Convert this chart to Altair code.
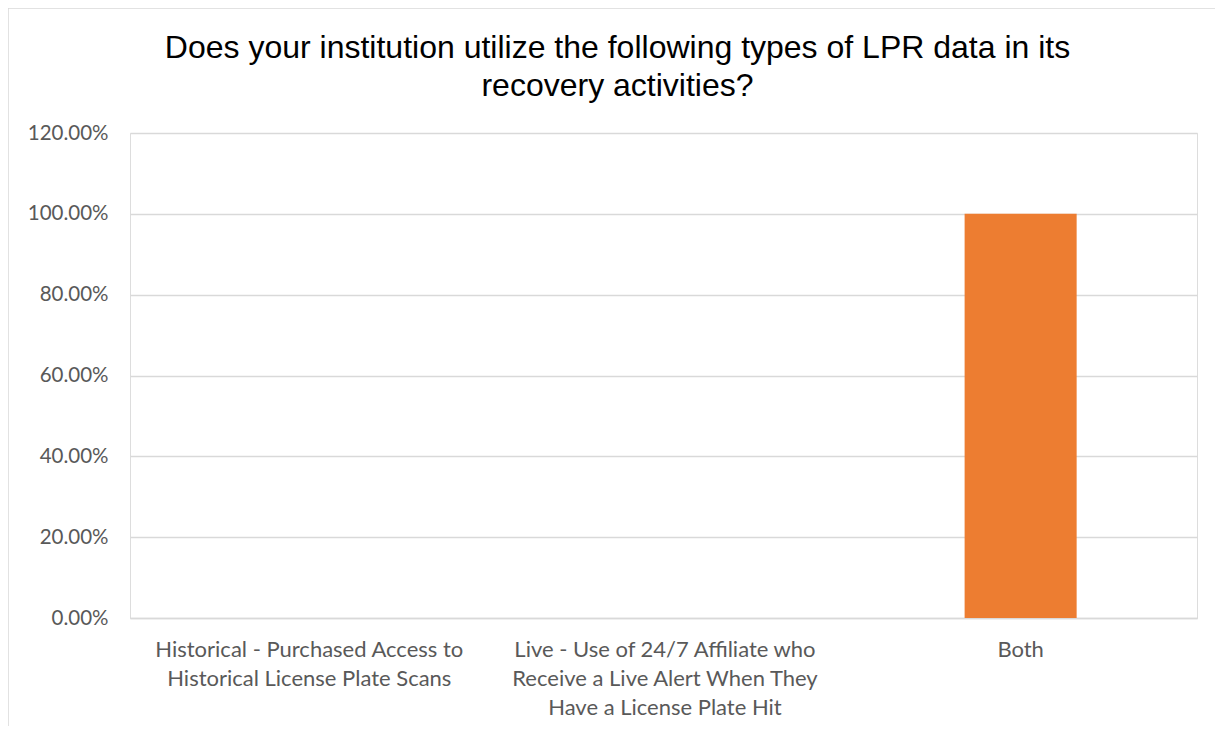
import altair as alt
import pandas as pd

categories = [
    "Historical - Purchased Access to\nHistorical License Plate Scans",
    "Live - Use of 24/7 Affiliate who\nReceive a Live Alert When They\nHave a License Plate Hit",
    "Both",
]
shares = [0.0, 0.0, 1.0]
y_ticks = [0.0, 0.2, 0.4, 0.6, 0.8, 1.0, 1.2]
title_lines = [
    "Does your institution utilize the following types of LPR data in its",
    "recovery activities?",
]

df = pd.DataFrame({"category": categories, "share": shares})

W, H = 1067, 485
PAD_L, PAD_T, PAD_R, PAD_B = 122, 125, 18, 108

bars = alt.Chart(df).mark_bar(color="#ED7D31").encode(
    x=alt.X(
        "category:N",
        sort=categories,
        scale=alt.Scale(paddingInner=0.685, paddingOuter=0.3425, align=0.506),
        axis=alt.Axis(
            title=None,
            labelAngle=0,
            labelExpr="split(datum.label, '\\n')",
            labelFont="Lato",
            labelFontSize=22,
            labelColor="#595959",
            labelLineHeight=29,
            labelPadding=21,
            labelBaseline="top",
            labelLimit=0,
            ticks=False,
            domain=True,
            domainColor="#d9d9d9",
            domainWidth=1.5,
            grid=False,
        ),
    ),
    y=alt.Y(
        "share:Q",
        scale=alt.Scale(domain=[0, 1.2], nice=False),
        axis=alt.Axis(
            title=None,
            values=y_ticks,
            format=".2%",
            labelFont="Lato",
            labelFontSize=20.5,
            labelColor="#595959",
            labelPadding=22,
            ticks=False,
            domain=False,
            grid=True,
            gridColor="#d9d9d9",
            gridWidth=1.5,
        ),
    ),
)

frame_df = pd.DataFrame({"k": [0]})
left_border = alt.Chart(frame_df).mark_rule(color="#d9d9d9", strokeWidth=1.5).encode(
    x=alt.value(-122), y=alt.value(-126), y2=alt.value(H + PAD_B)
)
top_border = alt.Chart(frame_df).mark_rule(color="#d9d9d9", strokeWidth=1.5).encode(
    x=alt.value(-122), x2=alt.value(W + PAD_R), y=alt.value(-125)
)

chart = (
    alt.layer(bars, left_border, top_border)
    .properties(
        width=W,
        height=H,
        autosize=alt.AutoSizeParams(type="none"),
        padding={"left": PAD_L, "top": PAD_T, "right": PAD_R, "bottom": PAD_B},
        title=alt.Title(
            text=title_lines,
            font="Liberation Sans",
            fontSize=32,
            fontWeight="normal",
            color="#000000",
            anchor="middle",
            frame="group",
            dx=-46,
            offset=-97,
            lineHeight=38,
        ),
    )
    .configure_view(stroke=None)
    .configure(background="white")
)

chart.save("out.html", embed_options={"renderer": "svg", "actions": False})
